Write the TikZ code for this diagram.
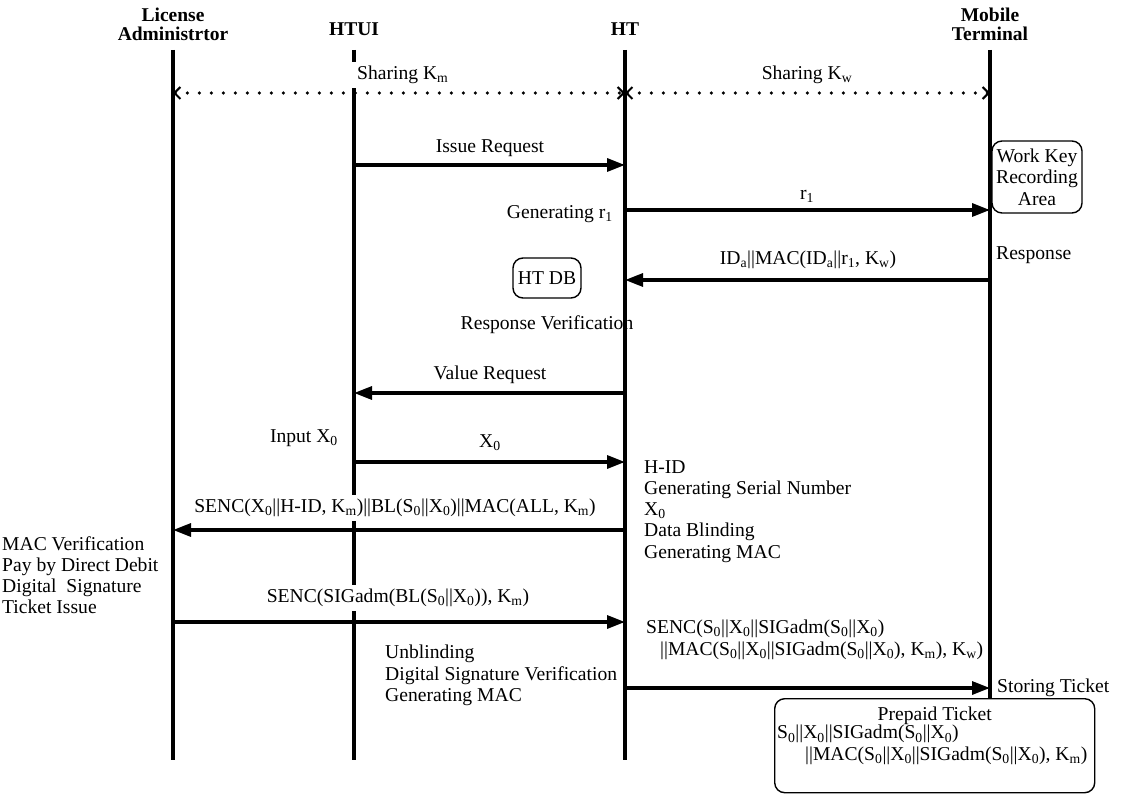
\documentclass[tikz,border=0pt]{standalone}
\usepackage{fontspec}
\setmainfont{Liberation Serif}
\usetikzlibrary{arrows.meta,positioning}

\newcommand{\sub}[1]{\textsubscript{#1}}

\begin{document}
\begin{tikzpicture}[
  x=1pt, y=-1pt,
  every node/.style={font=\fontsize{19.6}{21.3}\selectfont, inner sep=1pt},
  head/.style={font=\fontsize{19.5}{19}\selectfont\bfseries, align=center},
  box/.style={draw, rounded corners=10pt, line width=1.4pt, align=center, inner sep=3pt},
  life/.style={line width=3.2pt},
  msg/.style={line width=3.2pt, -{Triangle[length=18pt,width=13pt]}},
  share/.style={line width=3.6pt, line cap=round, dash pattern=on 0pt off 12pt,
                {Straight Barb[length=6pt,width=12pt,line width=2pt]}-{Straight Barb[length=6pt,width=12pt,line width=2pt]}},
  lbl/.style={fill=white, inner sep=4pt},
  note/.style={align=left, inner sep=0pt}
]
\useasboundingbox (0,0) rectangle (1129,802);

% participants
\node[head] (la-h) at (173,24) {License\\Administrtor};
\node[head] (htui-h) at (354,29) {HTUI};
\node[head] (ht-h) at (625,29) {HT};
\node[head] (mt-h) at (990,24) {Mobile\\Terminal};

\coordinate (la) at (173,50);
\coordinate (htui) at (354,50);
\coordinate (ht) at (625,50);
\coordinate (mt) at (990,50);
\coordinate (bottom) at (0,760);

% storage boxes
\node[box, minimum width=90, minimum height=72] (wk) at (1037,177) {Work Key\\Recording\\Area};
\node[box, minimum width=68, minimum height=40] (db) at (547,278) {HT DB};
\node[box, anchor=north west, minimum width=320, minimum height=94] (ticket) at (774,698) {};

% lifelines
\draw[life] (la) -- (la |- bottom);
\draw[life] (htui) -- (htui |- bottom);
\draw[life] (ht) -- (ht |- bottom);
\draw[life] (mt) -- (ticket.north -| mt);

% key sharing
\coordinate (k) at (0,93);
\draw[share] (la |- k) -- (ht |- k);
\draw[share] (ht |- k) -- (mt |- k);
\node[lbl, anchor=west, inner xsep=8pt] (km) at (349,75) {Sharing K\sub{m}};
\node[lbl] (kw) at (807,75) {Sharing K\sub{w}};

% messages
\coordinate (m1) at (0,165);
\coordinate (m2) at (0,210);
\coordinate (m3) at (0,280);
\coordinate (m4) at (0,393);
\coordinate (m5) at (0,462);
\coordinate (m6) at (0,530);
\coordinate (m7) at (0,622);
\coordinate (m8) at (0,688);

\draw[msg] (htui |- m1) -- (ht |- m1);
\draw[msg] (ht |- m2) -- (mt |- m2);
\draw[msg] (mt |- m3) -- (ht |- m3);
\draw[msg] (ht |- m4) -- (htui |- m4);
\draw[msg] (htui |- m5) -- (ht |- m5);
\draw[msg] (ht |- m6) -- (la |- m6);
\draw[msg] (la |- m7) -- (ht |- m7);
\draw[msg] (ht |- m8) -- (mt |- m8);

\node[lbl] (issue) at (490,148) {Issue Request};
\node[lbl] (r1) at (807,196) {r\sub{1}};
\node[lbl] (resp) at (808,260) {ID\sub{a}||MAC(ID\sub{a}||r\sub{1}, K\sub{w})};
\node[lbl] (value) at (490,375) {Value Request};
\node[lbl] (x0) at (490,443) {X\sub{0}};
\node[lbl] (senc1) at (395,508) {SENC(X\sub{0}||H-ID, K\sub{m})||BL(S\sub{0}||X\sub{0})||MAC(ALL, K\sub{m})};
\node[lbl] (senc2) at (398,598) {SENC(SIGadm(BL(S\sub{0}||X\sub{0})), K\sub{m})};
\node[note, anchor=north west] (senc3) at (646,620) {SENC(S\sub{0}||X\sub{0}||SIGadm(S\sub{0}||X\sub{0})\\
  \hspace*{14pt}||MAC(S\sub{0}||X\sub{0}||SIGadm(S\sub{0}||X\sub{0}), K\sub{m}), K\sub{w})};

% local processing
\node[note, anchor=east] (genr) at (613,214) {Generating r\sub{1}};
\node[note, anchor=west] (respn) at (996,255) {Response};
\node[note] (verif) at (547,325) {Response Verification};
\node[note, anchor=east] (input) at (338,438) {Input X\sub{0}};
\node[note, anchor=north west] (hid) at (644,460) {H-ID\\Generating Serial Number\\X\sub{0}\\Data Blinding\\Generating MAC};
\node[note, anchor=north west] (macv) at (2,536) {MAC Verification\\Pay by Direct Debit\\Digital~ Signature\\Ticket Issue};
\node[note, anchor=north west] (unbl) at (385,645) {Unblinding\\Digital Signature Verification\\Generating MAC};
\node[note, anchor=west] (store) at (997,688) {Storing Ticket};

% ticket contents
\node[note, below=9pt of ticket.north] (pt) {Prepaid Ticket};
\node[note, anchor=north west] (ptx) at ([xshift=3pt]ticket.west |- pt.south) {S\sub{0}||X\sub{0}||SIGadm(S\sub{0}||X\sub{0})\\
  \hspace*{28pt}||MAC(S\sub{0}||X\sub{0}||SIGadm(S\sub{0}||X\sub{0}), K\sub{m})};
\end{tikzpicture}
\end{document}
